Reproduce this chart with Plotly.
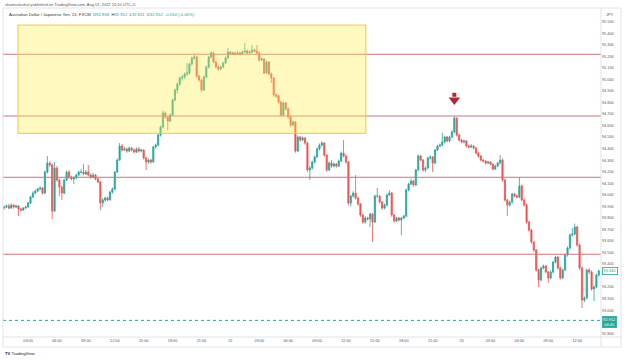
import plotly.graph_objects as go
import pandas as pd

# ---------------- data (AUD/JPY, 15 min, FXCM) ----------------
first_open = 93.885
close = [
    93.894, 93.903, 93.885, 93.911, 93.894, 93.903, 93.877, 93.868, 93.885, 93.894,
    93.929, 93.981, 94.015, 94.033, 94.050, 94.059, 94.015, 94.197, 94.275, 94.258,
    93.859, 94.232, 94.128, 94.067, 94.015, 94.128, 94.197, 94.154, 94.137, 94.145,
    94.171, 94.197, 94.197, 94.180, 94.197, 94.171, 94.154, 94.171, 94.137, 94.111,
    93.929, 93.955, 93.972, 93.955, 94.024, 94.050, 94.197, 94.301, 94.423, 94.388,
    94.397, 94.379, 94.405, 94.388, 94.371, 94.397, 94.379, 94.388, 94.319, 94.284,
    94.301, 94.284, 94.414, 94.431, 94.518, 94.587, 94.709, 94.674, 94.639, 94.691,
    94.821, 94.908, 94.960, 95.012, 95.021, 95.047, 95.055, 95.133, 95.185, 95.194,
    95.029, 94.995, 94.908, 95.021, 95.107, 95.194, 95.229, 95.151, 95.107, 95.090,
    95.107, 95.142, 95.185, 95.237, 95.220, 95.229, 95.220, 95.229, 95.220, 95.237,
    95.246, 95.229, 95.237, 95.255, 95.246, 95.229, 95.168, 95.177, 95.055, 95.151,
    95.047, 95.012, 94.865, 94.856, 94.804, 94.691, 94.795, 94.743, 94.674, 94.605,
    94.631, 94.379, 94.501, 94.475, 94.492, 94.449, 94.215, 94.232, 94.284, 94.327,
    94.397, 94.431, 94.449, 94.345, 94.215, 94.275, 94.249, 94.267, 94.249, 94.293,
    94.362, 94.336, 94.284, 93.929, 93.989, 94.015, 93.972, 93.920, 93.825, 93.764,
    93.799, 93.790, 93.833, 93.764, 93.989, 93.989, 93.937, 93.885, 93.911, 93.998,
    94.015, 93.825, 93.773, 93.799, 93.781, 93.799, 93.816, 94.041, 94.093, 94.119,
    94.085, 94.215, 94.336, 94.301, 94.215, 94.232, 94.319, 94.327, 94.275, 94.388,
    94.423, 94.431, 94.457, 94.501, 94.466, 94.501, 94.544, 94.665, 94.518, 94.475,
    94.457, 94.466, 94.423, 94.414, 94.423, 94.405, 94.362, 94.336, 94.301, 94.293,
    94.275, 94.284, 94.267, 94.223, 94.249, 94.275, 94.301, 94.128, 93.955, 93.911,
    93.937, 94.007, 93.989, 93.981, 94.076, 93.955, 93.911, 93.764, 93.695, 93.591,
    93.521, 93.348, 93.261, 93.365, 93.383, 93.331, 93.279, 93.331, 93.417, 93.461,
    93.365, 93.279, 93.348, 93.478, 93.539, 93.652, 93.660, 93.721, 93.565, 93.365,
    93.088, 93.106, 93.348, 93.331, 93.184, 93.201, 93.305, 93.340,
]
high = [
    93.908, 93.916, 93.921, 93.925, 93.918, 93.913, 93.909, 93.888, 93.894, 93.905,
    93.940, 93.992, 94.030, 94.048, 94.062, 94.075, 94.068, 94.210, 94.336, 94.290,
    94.270, 94.284, 94.250, 94.140, 94.080, 94.140, 94.210, 94.215, 94.165, 94.160,
    94.185, 94.210, 94.223, 94.267, 94.215, 94.258, 94.185, 94.190, 94.180, 94.145,
    94.120, 93.970, 93.985, 93.985, 94.035, 94.065, 94.205, 94.315, 94.449, 94.440,
    94.415, 94.410, 94.420, 94.415, 94.400, 94.410, 94.415, 94.400, 94.395, 94.330,
    94.315, 94.312, 94.425, 94.445, 94.530, 94.600, 94.730, 94.722, 94.680, 94.705,
    94.835, 94.920, 94.975, 95.025, 95.040, 95.060, 95.142, 95.145, 95.200, 95.215,
    95.205, 95.040, 95.005, 95.035, 95.120, 95.205, 95.246, 95.240, 95.160, 95.120,
    95.120, 95.155, 95.200, 95.272, 95.245, 95.240, 95.240, 95.245, 95.240, 95.250,
    95.315, 95.258, 95.250, 95.298, 95.265, 95.298, 95.240, 95.190, 95.185, 95.165,
    95.160, 95.060, 95.020, 94.880, 94.870, 94.815, 94.810, 94.805, 94.755, 94.685,
    94.645, 94.640, 94.515, 94.510, 94.505, 94.500, 94.460, 94.250, 94.295, 94.340,
    94.410, 94.445, 94.466, 94.455, 94.350, 94.290, 94.300, 94.280, 94.275, 94.305,
    94.375, 94.475, 94.350, 94.295, 94.000, 94.030, 94.171, 93.985, 93.930, 93.835,
    93.815, 93.810, 93.845, 93.845, 94.000, 94.059, 93.995, 93.945, 93.925, 94.010,
    94.041, 94.025, 93.835, 93.810, 93.810, 93.808, 93.828, 94.055, 94.105, 94.140,
    94.130, 94.225, 94.350, 94.345, 94.310, 94.245, 94.330, 94.340, 94.335, 94.398,
    94.435, 94.445, 94.536, 94.512, 94.510, 94.512, 94.560, 94.683, 94.670, 94.530,
    94.485, 94.478, 94.475, 94.435, 94.440, 94.430, 94.415, 94.372, 94.345, 94.310,
    94.300, 94.296, 94.292, 94.275, 94.262, 94.288, 94.345, 94.315, 94.140, 93.965,
    93.950, 94.018, 94.015, 94.005, 94.154, 94.090, 93.970, 93.925, 93.775, 93.705,
    93.600, 93.530, 93.360, 93.378, 93.395, 93.392, 93.340, 93.345, 93.428, 93.472,
    93.470, 93.378, 93.360, 93.490, 93.552, 93.665, 93.712, 93.750, 93.732, 93.578,
    93.378, 93.120, 93.360, 93.365, 93.345, 93.215, 93.318, 93.352,
]
low = [
    93.872, 93.884, 93.874, 93.879, 93.881, 93.886, 93.816, 93.856, 93.861, 93.878,
    93.888, 93.921, 93.970, 94.005, 94.022, 94.040, 94.002, 94.008, 94.185, 94.240,
    93.790, 93.850, 94.115, 93.990, 93.955, 94.005, 94.120, 94.140, 94.125, 94.093,
    94.135, 94.160, 94.185, 94.170, 94.172, 94.160, 94.140, 94.145, 94.125, 94.100,
    93.868, 93.894, 93.940, 93.945, 93.950, 94.010, 94.040, 94.190, 94.295, 94.375,
    94.380, 94.365, 94.370, 94.375, 94.360, 94.362, 94.366, 94.368, 94.305, 94.215,
    94.270, 94.270, 94.278, 94.400, 94.420, 94.505, 94.575, 94.660, 94.560, 94.630,
    94.680, 94.810, 94.880, 94.945, 94.990, 95.005, 95.030, 95.040, 95.120, 95.170,
    95.015, 94.980, 94.890, 94.900, 95.010, 95.095, 95.180, 95.140, 95.095, 95.075,
    95.080, 95.100, 95.135, 95.180, 95.210, 95.210, 95.208, 95.212, 95.208, 95.212,
    95.230, 95.220, 95.222, 95.230, 95.235, 95.220, 95.155, 95.158, 95.045, 95.050,
    95.035, 94.968, 94.850, 94.840, 94.790, 94.680, 94.680, 94.730, 94.660, 94.590,
    94.595, 94.365, 94.370, 94.460, 94.465, 94.435, 94.200, 94.128, 94.220, 94.270,
    94.320, 94.385, 94.420, 94.330, 94.200, 94.205, 94.235, 94.240, 94.235, 94.240,
    94.285, 94.325, 94.270, 93.910, 93.900, 93.975, 93.960, 93.905, 93.810, 93.750,
    93.750, 93.778, 93.720, 93.591, 93.755, 93.975, 93.925, 93.870, 93.875, 93.900,
    93.990, 93.810, 93.760, 93.765, 93.770, 93.652, 93.790, 93.805, 94.030, 94.085,
    94.070, 94.075, 94.205, 94.290, 94.200, 94.195, 94.225, 94.305, 94.197, 94.265,
    94.380, 94.410, 94.420, 94.445, 94.455, 94.455, 94.490, 94.535, 94.505, 94.462,
    94.445, 94.445, 94.410, 94.400, 94.405, 94.392, 94.350, 94.322, 94.290, 94.280,
    94.262, 94.265, 94.255, 94.210, 94.215, 94.240, 94.265, 94.115, 93.940, 93.816,
    93.898, 93.925, 93.978, 93.970, 93.970, 93.945, 93.900, 93.750, 93.680, 93.575,
    93.505, 93.335, 93.201, 93.250, 93.355, 93.320, 93.236, 93.268, 93.320, 93.405,
    93.352, 93.265, 93.268, 93.340, 93.465, 93.525, 93.640, 93.650, 93.550, 93.350,
    93.019, 93.070, 93.095, 93.315, 93.170, 93.080, 93.190, 93.290,
]

start_time = "2022-06-21 00:30"
tick_times = [
    "2022-06-21 03:00", "2022-06-21 06:00", "2022-06-21 09:00", "2022-06-21 12:00",
    "2022-06-21 15:00", "2022-06-21 18:00", "2022-06-21 21:00", "2022-06-22 00:00",
    "2022-06-22 03:00", "2022-06-22 06:00", "2022-06-22 09:00", "2022-06-22 12:00",
    "2022-06-22 15:00", "2022-06-22 18:00", "2022-06-22 21:00", "2022-06-23 00:00",
    "2022-06-23 03:00", "2022-06-23 06:00", "2022-06-23 09:00", "2022-06-23 12:00",
]
tick_labels = [
    "03:00", "06:00", "09:00", "12:00", "15:00", "18:00", "21:00", "22",
    "03:00", "06:00", "09:00", "12:00", "15:00", "18:00", "21:00", "23",
    "03:00", "06:00", "09:00", "12:00",
]
price_ticks = [95.5, 95.4, 95.3, 95.2, 95.1, 95.0, 94.9, 94.8, 94.7, 94.6, 94.5, 94.4,
               94.3, 94.2, 94.1, 94.0, 93.9, 93.8, 93.7, 93.6, 93.5, 93.4, 93.2, 93.1,
               93.0, 92.8]

level_prices = [95.218, 94.683, 94.152, 93.485]
zone_time = ["2022-06-21 01:57", "2022-06-22 14:04"]
zone_price = [94.533, 95.471]
arrow_time = "2022-06-22 23:15"
arrow_price = 94.822
last_price = 92.912
last_visible_price = 93.340
countdown = "04:45"

header_1 = "shamsulzuhal published on TradingView.com, Aug 01, 2022 15:10 UTC+5"
symbol_text = "Australian Dollar / Japanese Yen, 15, FXCM"
ohlc_text = [("O", "92.858"), ("H", "92.912"), ("L", "92.811"), ("C", "92.912")]
change_text = "-0.054 (-0.06%)"

x_range = ["2022-06-21 00:23:46", "2022-06-23 14:28:30"]
y_range = [92.768, 95.619]

# ---------------- build ----------------
UP = "#26a69a"
DOWN = "#ef5350"
ARROW = "#b22833"
LEVEL = "#c9767a"
FONT = "Liberation Sans"
FRAME = "#e0e3eb"

times = pd.date_range(start_time, periods=len(close), freq="15min")
opens = [first_open] + close[:-1]
highs = [max(h, o, c) for h, o, c in zip(high, opens, close)]
lows = [min(l, o, c) for l, o, c in zip(low, opens, close)]

fig = go.Figure()
fig.add_trace(go.Candlestick(
    x=times, open=opens, high=highs, low=lows, close=close,
    increasing=dict(line=dict(color=UP, width=0.8), fillcolor=UP),
    decreasing=dict(line=dict(color=DOWN, width=0.8), fillcolor=DOWN),
    whiskerwidth=0, showlegend=False, hoverinfo="skip",
))

# arrow marker: head + stem
fig.add_trace(go.Scatter(
    x=[arrow_time], y=[arrow_price], mode="markers",
    marker=dict(symbol="triangle-down", size=10, color=ARROW, line=dict(width=0)),
    showlegend=False, hoverinfo="skip",
))
fig.add_trace(go.Scatter(
    x=[arrow_time], y=[arrow_price + 0.045], mode="markers",
    marker=dict(symbol="square", size=4, color=ARROW, line=dict(width=0)),
    showlegend=False, hoverinfo="skip",
))

shapes = []
for p in level_prices:
    shapes.append(dict(type="line", xref="paper", x0=0, x1=1, yref="y", y0=p, y1=p,
                       line=dict(color=LEVEL, width=1), layer="above"))
shapes.append(dict(type="line", xref="paper", x0=0, x1=1, yref="y", y0=last_price, y1=last_price,
                   line=dict(color=UP, width=1, dash="dot"), layer="above"))
shapes.append(dict(type="rect", xref="x", yref="y", x0=zone_time[0], x1=zone_time[1],
                   y0=zone_price[0], y1=zone_price[1],
                   fillcolor="rgba(255,238,80,0.36)",
                   line=dict(color="#f5c542", width=1), layer="above"))
# frame
shapes.append(dict(type="rect", xref="paper", yref="paper", x0=0, x1=618 / 598,
                   y0=-10 / 329, y1=1, line=dict(color=FRAME, width=1), layer="above"))
shapes.append(dict(type="line", xref="paper", yref="paper", x0=1, x1=1, y0=-10 / 329, y1=1,
                   line=dict(color=FRAME, width=1), layer="above"))
shapes.append(dict(type="line", xref="paper", yref="paper", x0=0, x1=618 / 598, y0=0, y1=0,
                   line=dict(color=FRAME, width=1), layer="above"))

annotations = [
    dict(xref="paper", yref="paper", x=0, y=1.0105, xanchor="left", yanchor="middle",
         text=header_1, showarrow=False, font=dict(size=4, color="#555", family=FONT)),
    dict(xref="paper", yref="paper", x=4 / 598, y=0.9796, xanchor="left", yanchor="middle",
         text=symbol_text + "  " + "  ".join(
             f"{k}<span style='color:{UP}'>{v}</span>" for k, v in ohlc_text)
              + f"  <span style='color:{UP}'>{change_text}</span>",
         showarrow=False, font=dict(size=4.2, color="#333", family=FONT)),
    dict(xref="paper", yref="y", x=1, y=last_visible_price, xanchor="left", yanchor="middle",
         text=f"{last_visible_price:.3f}", showarrow=False, bgcolor="white",
         bordercolor=UP, borderwidth=0.8, borderpad=0.5,
         font=dict(size=4, color=UP, family=FONT), xshift=1),
    dict(xref="paper", yref="y", x=1, y=last_price, xanchor="left", yanchor="top",
         text=f"{last_price:.3f}<br>{countdown}", showarrow=False, bgcolor=UP,
         bordercolor=UP, borderwidth=0.5, borderpad=0.6, yshift=4, align="center",
         font=dict(size=4, color="white", family=FONT), xshift=1),
    dict(xref="paper", yref="paper", x=1, y=1, xanchor="left", yanchor="top",
         text="JPY", showarrow=False, font=dict(size=3.8, color="#555", family=FONT),
         xshift=3, yshift=-3),
    dict(xref="paper", yref="paper", x=0, y=-16 / 329, xanchor="left", yanchor="middle",
         text="<b>TV</b> TradingView", showarrow=False,
         font=dict(size=4.2, color="#131722", family=FONT)),
]

fig.update_layout(
    width=624, height=360,
    margin=dict(l=3, r=23, t=8, b=23),
    paper_bgcolor="white", plot_bgcolor="white",
    shapes=shapes, annotations=annotations,
    showlegend=False,
    xaxis=dict(
        range=x_range, rangeslider=dict(visible=False),
        tickmode="array", tickvals=tick_times, ticktext=tick_labels,
        showgrid=False, zeroline=False, showline=False, ticks="",
        tickfont=dict(size=3.8, color="#555", family=FONT),
    ),
    yaxis=dict(
        range=y_range, side="right", tickmode="array",
        tickvals=price_ticks, ticktext=[f"{v:.3f}" for v in price_ticks],
        showgrid=False, zeroline=False, showline=False, ticks="",
        tickfont=dict(size=3.8, color="#555", family=FONT),
    ),
)

fig.write_html("out.html", config={"displayModeBar": False},
               post_script="document.body.style.margin='0';document.body.style.overflow='hidden';")
